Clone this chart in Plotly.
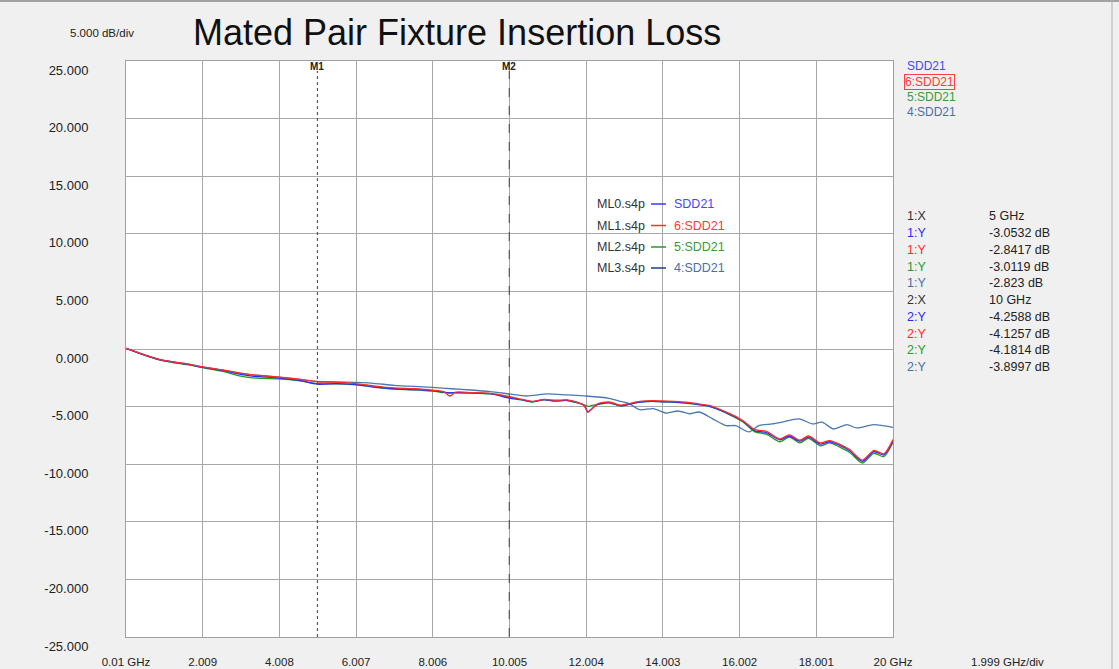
import plotly.graph_objects as go

# ---------------- data ----------------
freq_main = [0.01, 0.3, 0.6, 0.9, 1.2, 1.6, 2.0, 2.5, 3.0, 3.3,
             3.6, 4.0, 4.5, 5.0, 5.5, 6.0, 6.5, 7.0, 7.5, 8.0,
             8.3, 8.45, 8.6, 9.0, 9.5, 10.0, 10.3, 10.6, 10.9, 11.2,
             11.5, 11.8, 11.95, 12.05, 12.15, 12.3, 12.6, 12.9, 13.1, 13.4,
             13.7, 14.0, 14.3, 14.6, 14.9, 15.2, 15.5, 15.8, 16.1, 16.4,
             16.7, 17.05, 17.3, 17.57, 17.8, 18.1, 18.35, 18.6, 18.88, 19.2,
             19.5, 19.76, 20.0]

ml0_sdd21 = [0.05, -0.3, -0.65, -0.95, -1.12, -1.32, -1.58, -1.85, -2.2, -2.35,
             -2.42, -2.52, -2.7, -3.0532, -3.0, -3.08, -3.3, -3.45, -3.52, -3.62,
             -3.75, -3.8, -3.78, -3.8, -3.88, -4.2588, -4.4, -4.58, -4.4, -4.5,
             -4.45, -4.68, -4.9, -5.45, -5.2, -4.8, -4.66, -4.92, -4.8, -4.62,
             -4.55, -4.58, -4.6, -4.68, -4.8, -4.95, -5.3, -5.75, -6.3, -7.1,
             -7.25, -7.88, -7.55, -8.0, -7.65, -8.25, -8.05, -8.35, -8.85, -9.75,
             -8.9, -9.2, -8.0]

ml1_sdd21 = [0.05, -0.28, -0.62, -0.92, -1.1, -1.3, -1.55, -1.8, -2.1, -2.25,
             -2.32, -2.45, -2.62, -2.8417, -2.9, -3.0, -3.22, -3.38, -3.45, -3.58,
             -3.72, -4.08, -3.75, -3.78, -3.85, -4.1257, -4.35, -4.55, -4.38, -4.45,
             -4.42, -4.65, -4.9, -5.5, -5.2, -4.75, -4.6, -4.88, -4.75, -4.55,
             -4.48, -4.5, -4.55, -4.62, -4.75, -4.9, -5.25, -5.7, -6.25, -7.0,
             -7.15, -7.8, -7.45, -7.92, -7.55, -8.15, -7.95, -8.25, -8.75, -9.65,
             -8.8, -9.1, -7.85]

ml2_sdd21 = [0.05, -0.3, -0.66, -0.97, -1.15, -1.36, -1.62, -1.92, -2.35, -2.5,
             -2.55, -2.6, -2.75, -3.0119, -3.02, -3.1, -3.32, -3.48, -3.55, -3.66,
             -3.78, -3.82, -3.8, -3.82, -3.9, -4.1814, -4.4, -4.6, -4.42, -4.52,
             -4.47, -4.7, -4.85, -4.98, -4.9, -4.82, -4.68, -4.95, -4.82, -4.62,
             -4.55, -4.58, -4.6, -4.7, -4.82, -4.98, -5.32, -5.8, -6.35, -7.2,
             -7.38, -8.05, -7.65, -8.15, -7.75, -8.4, -8.15, -8.5, -9.0, -9.9,
             -9.05, -9.35, -8.1]

freq_ml3 = [0.01, 0.3, 0.6, 0.9, 1.2, 1.6, 2.0, 2.5, 3.0, 3.5,
            4.0, 4.5, 5.0, 5.5, 6.0, 6.4, 7.0, 7.5, 8.0, 8.5,
            9.0, 9.5, 10.0, 10.45, 11.0, 11.5, 12.0, 12.6, 12.9, 13.1,
            13.4, 13.75, 14.1, 14.4, 14.7, 14.95, 15.3, 15.65, 15.9, 16.25,
            16.5, 16.85, 17.1, 17.55, 17.9, 18.15, 18.45, 18.8, 19.05, 19.5,
            20.0]

ml3_sdd21 = [0.05, -0.3, -0.63, -0.92, -1.1, -1.3, -1.55, -1.82, -2.12, -2.3,
             -2.45, -2.62, -2.823, -2.85, -2.9, -2.96, -3.15, -3.25, -3.33, -3.45,
             -3.56, -3.7, -3.8997, -4.08, -3.9, -3.99, -4.08, -4.28, -4.55, -4.7,
             -5.27, -5.17, -5.56, -5.38, -5.62, -5.47, -6.06, -6.65, -6.65, -7.2,
             -6.65, -6.5, -6.35, -6.06, -6.5, -6.35, -6.94, -6.56, -6.85, -6.56,
             -6.8]

x_tick_vals = [0.01, 2.009, 4.008, 6.007, 8.006, 10.005, 12.004, 14.003, 16.002, 18.001, 20.0]
x_tick_text = ["0.01 GHz", "2.009", "4.008", "6.007", "8.006", "10.005",
               "12.004", "14.003", "16.002", "18.001", "20 GHz"]
y_tick_vals = [25, 20, 15, 10, 5, 0, -5, -10, -15, -20, -25]
y_tick_text = ["25.000", "20.000", "15.000", "10.000", "5.000", "0.000",
               "-5.000", "-10.000", "-15.000", "-20.000", "-25.000"]

marker_freqs = [5, 10]
marker_names = ["M1", "M2"]

file_names = ["ML0.s4p", "ML1.s4p", "ML2.s4p", "ML3.s4p"]
trace_names = ["SDD21", "6:SDD21", "5:SDD21", "4:SDD21"]

table_labels = ["1:X", "1:Y", "1:Y", "1:Y", "1:Y", "2:X", "2:Y", "2:Y", "2:Y", "2:Y"]
table_values = ["5 GHz", "-3.0532 dB", "-2.8417 dB", "-3.0119 dB", "-2.823 dB",
                "10 GHz", "-4.2588 dB", "-4.1257 dB", "-4.1814 dB", "-3.8997 dB"]

# ---------------- styling ----------------
W, H = 1119, 669
L, R, T, B = 126, 893, 61, 637
FONT = "Liberation Sans, Arial, sans-serif"

c_blue = "#2a2aff"
c_red = "#ff2a2a"
c_green = "#1f9a1f"
c_steel = "#4a78b2"
text_colors = ["#4646ff", "#ff3a3a", "#3a9a3a", "#4a6fa5"]
leg_line_colors = ["#3a3aff", "#ff3030", "#2a9a2a", "#1f3f7f"]
table_colors = ["#333333", "#2a2aff", "#ff2a2a", "#2a9a2a", "#4a6fa5",
                "#333333", "#2a2aff", "#ff2a2a", "#2a9a2a", "#4a6fa5"]


def px(xp):
    return (xp - L) / (R - L)


def py(yp):
    return (B - yp) / (B - T)


line_kw = dict(width=1.3, shape="spline", smoothing=0.7)

fig = go.Figure()
fig.add_trace(go.Scatter(x=freq_ml3, y=ml3_sdd21, mode="lines",
                         line=dict(color=c_steel, **line_kw), name="4:SDD21"))
fig.add_trace(go.Scatter(x=freq_main, y=ml2_sdd21, mode="lines",
                         line=dict(color=c_green, **line_kw), name="5:SDD21"))
fig.add_trace(go.Scatter(x=freq_main, y=ml0_sdd21, mode="lines",
                         line=dict(color=c_blue, **line_kw), name="SDD21"))
fig.add_trace(go.Scatter(x=freq_main, y=ml1_sdd21, mode="lines",
                         line=dict(color=c_red, **line_kw), name="6:SDD21"))

shapes = []
annotations = []

# marker lines
for f, name, dash in zip(marker_freqs, marker_names, ["dot", "dash"]):
    shapes.append(dict(type="line", xref="x", yref="paper", x0=f, x1=f,
                       y0=0, y1=py(71), line=dict(color="#555555", width=1.2, dash=dash)))
    annotations.append(dict(x=f, y=py(66), xref="x", yref="paper", text="<b>" + name + "</b>",
                            showarrow=False, font=dict(size=10, color="#222222", family=FONT),
                            xanchor="center", yanchor="middle"))

# title and scale text
annotations.append(dict(x=px(191), y=py(33), xref="paper", yref="paper",
                        text="Mated Pair Fixture Insertion Loss", showarrow=False,
                        font=dict(size=36, color="#111111", family=FONT),
                        xanchor="left", yanchor="middle"))
annotations.append(dict(x=px(102), y=py(33), xref="paper", yref="paper",
                        text="5.000 dB/div", showarrow=False,
                        font=dict(size=11.5, color="#222222", family=FONT),
                        xanchor="center", yanchor="middle"))
annotations.append(dict(x=px(1007), y=py(662), xref="paper", yref="paper",
                        text="1.999 GHz/div", showarrow=False,
                        font=dict(size=11.5, color="#222222", family=FONT),
                        xanchor="center", yanchor="middle"))

# right-side trace list
for i, (nm, col) in enumerate(zip(trace_names, text_colors)):
    yy = [66, 81.5, 97, 112][i]
    a = dict(x=px(905), y=py(yy), xref="paper", yref="paper", text=nm, showarrow=False,
             font=dict(size=12, color=col, family=FONT), xanchor="left", yanchor="middle")
    if i == 1:
        a.update(bordercolor="#ff4040", borderwidth=1, borderpad=0)
        a["x"] = px(904)
    annotations.append(a)

# marker table
rows_y = [216, 233, 250, 266.5, 283, 300, 317, 333.5, 350, 366.5]
for lab, val, col, yy in zip(table_labels, table_values, table_colors, rows_y):
    annotations.append(dict(x=px(905), y=py(yy), xref="paper", yref="paper", text=lab,
                            showarrow=False, font=dict(size=12.5, color=col, family=FONT),
                            xanchor="left", yanchor="middle"))
    annotations.append(dict(x=px(987), y=py(yy), xref="paper", yref="paper", text=val,
                            showarrow=False, font=dict(size=12.5, color="#222222", family=FONT),
                            xanchor="left", yanchor="middle"))

# in-plot legend
leg_y = [204, 225.5, 247, 268]
for fn, tn, lc, tc, yy in zip(file_names, trace_names, leg_line_colors, text_colors, leg_y):
    annotations.append(dict(x=px(595), y=py(yy), xref="paper", yref="paper", text=fn,
                            showarrow=False, font=dict(size=12.5, color="#333333", family=FONT),
                            xanchor="left", yanchor="middle"))
    shapes.append(dict(type="line", xref="paper", yref="paper", x0=px(651), x1=px(666),
                       y0=py(yy), y1=py(yy), line=dict(color=lc, width=1.5)))
    annotations.append(dict(x=px(672), y=py(yy), xref="paper", yref="paper", text=tn,
                            showarrow=False, font=dict(size=12.5, color=tc, family=FONT),
                            xanchor="left", yanchor="middle"))

# window frame lines
shapes.append(dict(type="line", xref="paper", yref="paper", x0=px(0), x1=px(W),
                   y0=py(1), y1=py(1), line=dict(color="#8a8a8a", width=1.5)))
shapes.append(dict(type="line", xref="paper", yref="paper", x0=px(1112), x1=px(1112),
                   y0=py(0), y1=py(H), line=dict(color="#b0b0b0", width=1)))

fig.update_layout(
    width=W, height=H, autosize=False,
    margin=dict(l=L, r=W - R, t=T, b=H - B, pad=0, autoexpand=False),
    paper_bgcolor="#f0f0f0",
    plot_bgcolor="#ffffff",
    showlegend=False,
    font=dict(family=FONT, size=12, color="#222222"),
    shapes=shapes,
    annotations=annotations,
    xaxis=dict(range=[0.01, 20.0], tickmode="array", tickvals=x_tick_vals, ticktext=x_tick_text,
               showgrid=True, gridcolor="#a8a8a8", gridwidth=1, zeroline=False, automargin=False,
               showline=True, linecolor="#a0a0a0", linewidth=1, mirror=True, ticks="",
               tickfont=dict(size=11.5, color="#222222", family=FONT),
               ticklabelstandoff=14),
    yaxis=dict(range=[-25, 25], tickmode="array", tickvals=y_tick_vals, ticktext=y_tick_text,
               showgrid=True, gridcolor="#a8a8a8", gridwidth=1, zeroline=False, automargin=False,
               showline=True, linecolor="#a0a0a0", linewidth=1, mirror=True, ticks="",
               tickfont=dict(size=13, color="#222222", family=FONT),
               ticklabelstandoff=34, ticklabelshift=9),
)

fig.write_html(
    "out.html",
    config={"displayModeBar": False, "responsive": False},
    post_script="document.body.style.margin='0';document.body.style.padding='0';"
                "document.body.style.background='#f0f0f0';"
                "document.documentElement.style.overflow='hidden';",
)
